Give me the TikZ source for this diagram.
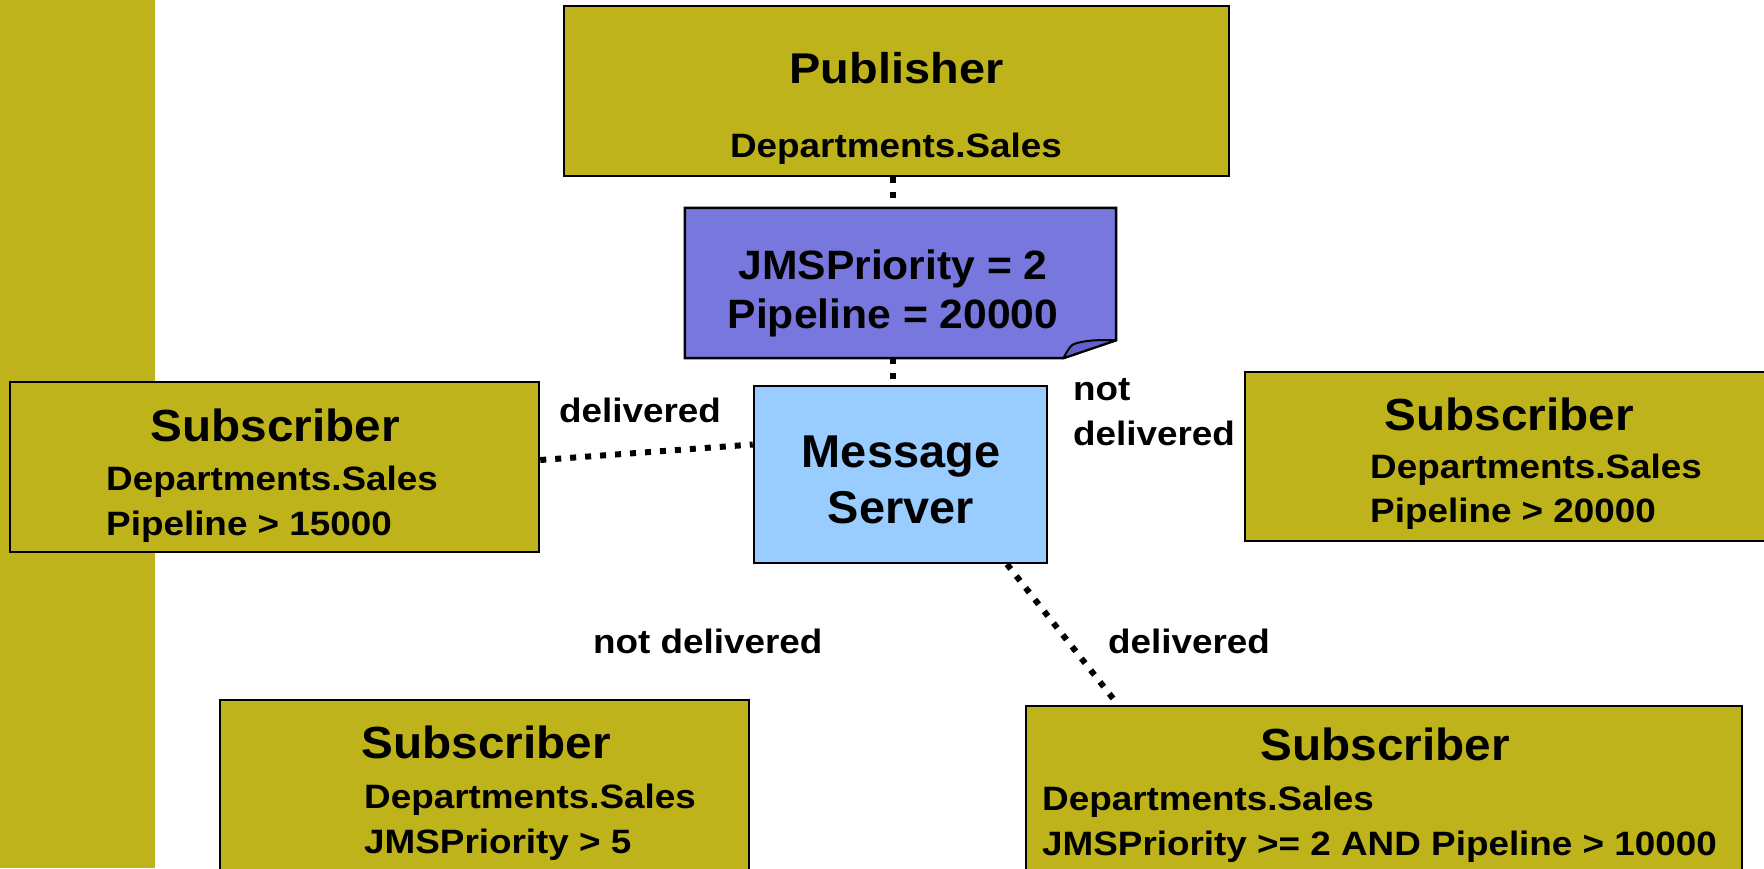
\documentclass[tikz,border=0pt]{standalone}
\usepackage{fontspec}
\setmainfont{Liberation Sans}
% bold faces with the slight horizontal widening of the slide lettering
\newfontfamily\serverfont{Liberation Sans}[FakeStretch=1.02]
\newfontfamily\notefont{Liberation Sans}[FakeStretch=1.04]
\newfontfamily\subfont{Liberation Sans}[FakeStretch=1.06]
\newfontfamily\pubfont{Liberation Sans}[FakeStretch=1.09]
\newfontfamily\detailfont{Liberation Sans}[FakeStretch=1.09]
\definecolor{olive}{RGB}{190,179,26}
\definecolor{serverblue}{RGB}{153,204,255}
\definecolor{notepurple}{RGB}{119,119,221}
\definecolor{flappurple}{RGB}{96,96,200}
\tikzset{
  box/.style={draw=black, line width=2.5pt, rectangle, inner sep=0pt},
  olivebox/.style={box, fill=olive},
  serverbox/.style={box, fill=serverblue},
  txt/.style={inner sep=0pt, anchor=base},
  pubhead/.style={txt, font=\pubfont\fontsize{43}{43}\selectfont\bfseries},
  subhead/.style={txt, font=\subfont\fontsize{45}{45}\selectfont\bfseries},
  srvhead/.style={txt, font=\serverfont\fontsize{46}{46}\selectfont\bfseries},
  notetext/.style={txt, font=\notefont\fontsize{41}{41}\selectfont\bfseries},
  detail/.style={txt, anchor=base west, font=\detailfont\fontsize{33.8}{34}\selectfont\bfseries},
  link/.style={line width=6pt, dash pattern=on 6pt off 9pt, black},
}
\begin{document}
\begin{tikzpicture}[x=1pt,y=-1pt]
\useasboundingbox (0,0) rectangle (1764,868);
\clip (0,0) rectangle (1764,868);

% side bar
\fill[olive] (0,0) rectangle (155,868);

% boxes
\node[olivebox, minimum width=665pt, minimum height=170pt] (pub) at (896.5,91) {};
\node[inner sep=0pt, minimum width=431pt, minimum height=150pt] (note) at (900.5,283) {};
\node[serverbox, minimum width=293pt, minimum height=177pt] (srv) at (900.5,474.5) {};
\node[olivebox, minimum width=529pt, minimum height=170pt] (subA) at (274.5,467) {};
\node[olivebox, minimum width=600pt, minimum height=169pt] (subB) at (1545,456.5) {};
\node[olivebox, minimum width=529pt, minimum height=200pt] (subC) at (484.5,800) {};
\node[olivebox, minimum width=716pt, minimum height=200pt] (subD) at (1384,806) {};

% message note with folded corner
\filldraw[fill=notepurple, draw=black, line width=2.5pt, line join=miter]
  (note.north west) -- (note.north east) -- ([yshift=18pt]note.south east)
  -- ([xshift=-53pt]note.south east) -- (note.south west) -- cycle;
\filldraw[fill=flappurple, draw=black, line width=2pt, line join=round]
  ([xshift=-53pt]note.south east)
  .. controls ([xshift=-48pt,yshift=8pt]note.south east) and ([xshift=-46pt,yshift=14pt]note.south east) .. ([xshift=-40pt,yshift=15pt]note.south east)
  .. controls ([xshift=-25pt,yshift=19pt]note.south east) and ([xshift=-12pt,yshift=18pt]note.south east) .. ([yshift=18pt]note.south east)
  -- cycle;

% connectors
\draw[link] ([xshift=-3.5pt]pub.south) -- ([xshift=-7.5pt]note.north);
\draw[link] ([xshift=-7.5pt]note.south) -- ([xshift=-7.5pt]srv.north);
\draw[link] ([yshift=7pt]subA.east) -- ([yshift=30pt]srv.west);
\draw[link] ([xshift=106.5pt]srv.south) -- ([xshift=-266pt]subD.north);

% texts
\node[pubhead] (pubT) at (896.5,83) {Publisher};
\node[txt, font=\detailfont\fontsize{33.8}{34}\selectfont\bfseries] (pubS) at (896,157) {Departments.Sales};

\node[notetext] (noteA) at (893,279) {JMSPriority = 2};
\node[notetext] (noteB) at (893,328) {Pipeline = 20000};

\node[srvhead] (srvA) at (901,467) {Message};
\node[srvhead] (srvB) at (901,523) {Server};

\node[subhead] (subAT) at (275,441) {Subscriber};
\node[detail] (subA1) at (106,490) {Departments.Sales};
\node[detail] (subA2) at (106,535) {Pipeline > 15000};

\node[subhead] (subBT) at (1509,430) {Subscriber};
\node[detail] (subB1) at (1370,478) {Departments.Sales};
\node[detail] (subB2) at (1370,522) {Pipeline > 20000};

\node[subhead] (subCT) at (486,758) {Subscriber};
\node[detail] (subC1) at (364,808) {Departments.Sales};
\node[detail] (subC2) at (364,853) {JMSPriority > 5};

\node[subhead] (subDT) at (1385,760) {Subscriber};
\node[detail] (subD1) at (1042,810) {Departments.Sales};
\node[detail] (subD2) at (1042,855) {JMSPriority >= 2 AND Pipeline > 10000};

% delivery labels
\node[detail] (lblA) at (559,422) {delivered};
\node[detail] (lblB1) at (1073,400) {not};
\node[detail] (lblB2) at (1073,445) {delivered};
\node[detail] (lblC) at (593,653) {not delivered};
\node[detail] (lblD) at (1108,653) {delivered};
\end{tikzpicture}
\end{document}
